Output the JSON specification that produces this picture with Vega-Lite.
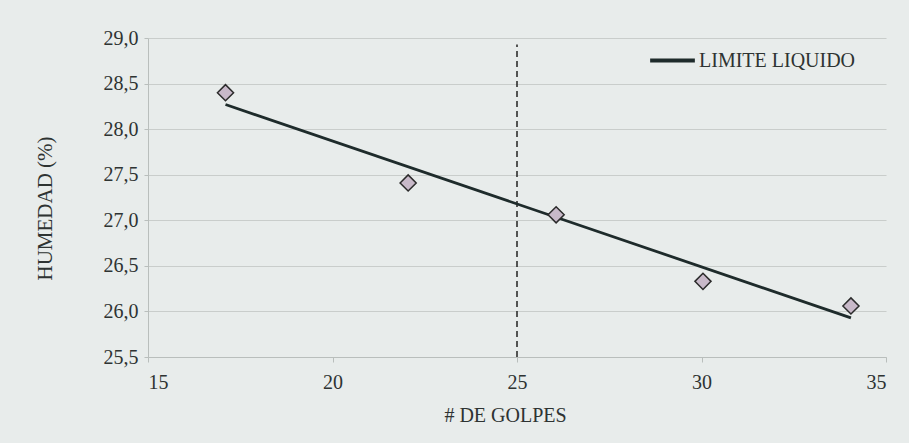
{
  "$schema": "https://vega.github.io/schema/vega-lite/v6.json",
  "autosize": "none",
  "width": 738,
  "height": 319,
  "padding": {"left": 148, "top": 38, "right": 23, "bottom": 86},
  "background": "#e8eceb",
  "config": {
    "view": {"stroke": null},
    "font": "Liberation Serif",
    "axis": {"labelFont": "Liberation Serif", "titleFont": "Liberation Serif", "labelColor": "#2e3332", "titleColor": "#2e3332", "labelFontSize": 20, "titleFontSize": 20, "titleFontWeight": "normal", "domainColor": "#b9bebc", "tickColor": "#b9bebc", "gridColor": "#c9cdcb"},
    "legend": {"labelFont": "Liberation Serif", "labelFontSize": 20, "labelColor": "#2e3332"}
  },
  "datasets": {
    "puntos": [
      {"golpes": 17.1, "humedad": 28.4},
      {"golpes": 22.05, "humedad": 27.41},
      {"golpes": 26.06, "humedad": 27.06},
      {"golpes": 30.04, "humedad": 26.33},
      {"golpes": 34.05, "humedad": 26.06}
    ],
    "tendencia": [
      {"golpes": 17.1, "humedad": 28.27, "serie": "LIMITE LIQUIDO"},
      {"golpes": 34.05, "humedad": 25.93, "serie": "LIMITE LIQUIDO"}
    ],
    "referencia": [
      {"golpes": 25, "y1": 25.5, "y2": 28.93}
    ]
  },
  "layer": [
    {
      "data": {"name": "referencia"},
      "mark": {"type": "rule", "color": "#222222", "strokeWidth": 1.5, "strokeDash": [6, 4]},
      "encoding": {
        "x": {"field": "golpes", "type": "quantitative", "scale": {"domain": [15, 35], "nice": false}},
        "y": {"field": "y1", "type": "quantitative", "scale": {"domain": [25.5, 29.0], "nice": false}},
        "y2": {"field": "y2"}
      }
    },
    {
      "data": {"name": "tendencia"},
      "mark": {"type": "line", "strokeWidth": 2.8},
      "encoding": {
        "x": {"field": "golpes", "type": "quantitative", "scale": {"domain": [15, 35], "nice": false},
          "axis": {"title": "# DE GOLPES", "values": [15, 20, 25, 30, 35], "grid": false, "labelPadding": 10, "tickSize": 5, "titleX": 357, "titleY": 58, "titleBaseline": "middle"}},
        "y": {"field": "humedad", "type": "quantitative", "scale": {"domain": [25.5, 29.0], "nice": false},
          "axis": {"title": "HUMEDAD (%)", "titleFontSize": 21, "values": [25.5, 26.0, 26.5, 27.0, 27.5, 28.0, 28.5, 29.0], "labelExpr": "replace(format(datum.value, '.1f'), '.', ',')", "grid": true, "tickSize": 4, "labelPadding": 6, "titleX": -103, "titleY": 170, "titleAngle": -90, "titleBaseline": "middle", "titleAlign": "center"}},
        "color": {"field": "serie", "type": "nominal", "scale": {"range": ["#1e2b2b"]},
          "legend": {"title": null, "orient": "none", "legendX": 500, "legendY": -2, "symbolType": "stroke", "symbolStrokeWidth": 4, "symbolSize": 2000, "labelOffset": 2}}
      }
    },
    {
      "data": {"name": "puntos"},
      "mark": {"type": "point", "shape": "diamond", "filled": true, "fill": "#c8b9c9", "stroke": "#2b2b2b", "strokeWidth": 1.5, "size": 260, "opacity": 1},
      "encoding": {
        "x": {"field": "golpes", "type": "quantitative"},
        "y": {"field": "humedad", "type": "quantitative"}
      }
    }
  ]
}
